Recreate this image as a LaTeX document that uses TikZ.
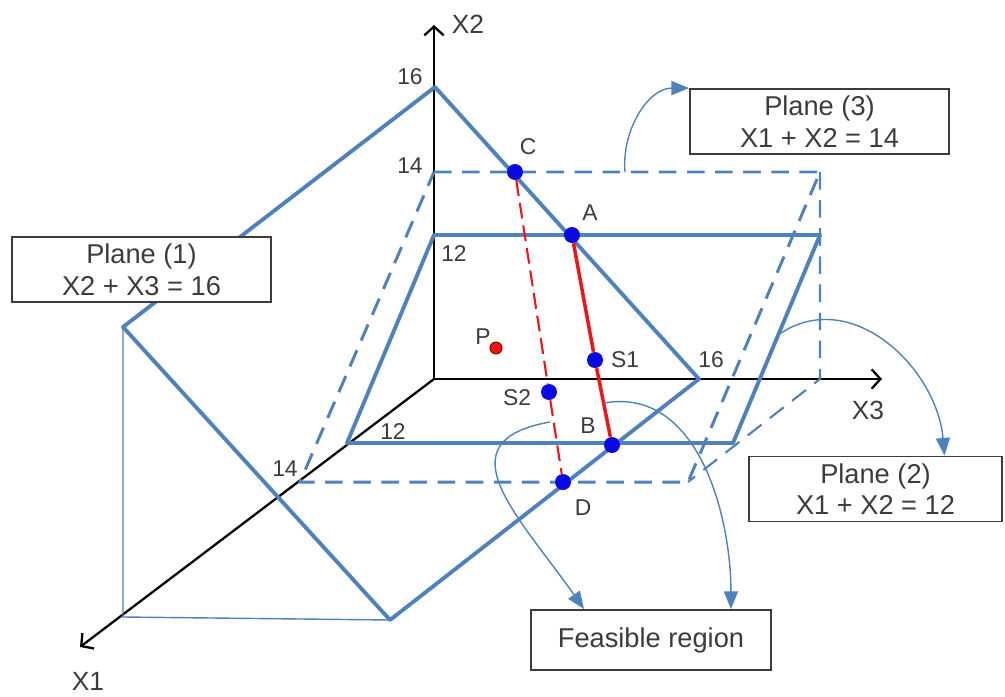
\documentclass[tikz,border=0pt]{standalone}
\usepackage{fontspec}
\setmainfont{Liberation Sans}
\usetikzlibrary{arrows.meta}
\definecolor{lpBlue}{RGB}{79,129,189}
\definecolor{lpDot}{RGB}{10,10,225}
\definecolor{lpRed}{RGB}{240,20,20}
\definecolor{lpGray}{RGB}{60,60,60}

\begin{document}
\begin{tikzpicture}[
    x=0.02cm, y=-0.02cm,
    plane/.style={draw=lpBlue, line width=2.2pt, line join=round},
    plane dashed/.style={draw=lpBlue, line width=1.7pt, dash pattern=on 10pt off 6pt},
    guide/.style={draw=lpBlue, line width=0.8pt},
    axis/.style={draw=black, line width=1.3pt, -{Straight Barb[length=5pt, width=11pt]}},
    vertex/.style={circle, fill=lpDot, inner sep=0pt, minimum size=0.32cm},
    tag/.style={text=lpGray, font=\fontsize{13}{15}\selectfont, inner sep=0pt},
    axis tag/.style={text=lpGray, font=\fontsize{15}{18}\selectfont, inner sep=0pt},
    plane box/.style={rectangle, draw=lpGray, line width=1.1pt, fill=white, text=lpGray, align=center,
      font=\fontsize{15.5}{18}\selectfont, minimum width=5.18cm, minimum height=1.3cm},
    note/.style={draw=lpBlue, line width=0.8pt, -{Triangle[length=10pt, width=8pt]}}
]
  \useasboundingbox (0,0) rectangle (1005,697);

  % axes
  \coordinate (O) at (434,379);
  \coordinate (x1end) at (80,647);
  \coordinate (x2end) at (434,25);
  \coordinate (x3end) at (882,379);
  \draw[axis] (O) -- (x1end);
  \draw[axis] (O) -- (x2end);
  \draw[axis] (O) -- (x3end);
  \node[axis tag] (x1lab) at (88,681) {X1};
  \node[axis tag] (x2lab) at (468,24) {X2};
  \node[axis tag] (x3lab) at (868,410) {X3};

  % plane (1)
  \coordinate (p1a) at (435,87);
  \coordinate (p1b) at (123,327);
  \coordinate (p1c) at (390,620);
  \coordinate (p1d) at (699,379);
  \draw[guide] (p1b) -- (123,617) -- (p1c);
  \draw[plane] (p1a) -- (p1b) -- (p1c) -- (p1d) -- cycle;

  % plane (3)
  \coordinate (p3a) at (434,172);
  \coordinate (p3b) at (820,172);
  \coordinate (p3c) at (688,482);
  \coordinate (p3d) at (300,482);
  \draw[plane dashed, line width=1.2pt] (p3b) -- (820,379) -- (p3c);
  \draw[plane dashed] (p3a) -- (p3b) -- (p3c) -- (p3d) -- cycle;

  % plane (2)
  \coordinate (p2a) at (434,235);
  \coordinate (p2b) at (820,235);
  \coordinate (p2c) at (733,443);
  \coordinate (p2d) at (347,443);
  \draw[plane] (p2a) -- (p2b) -- (p2c) -- (p2d) -- cycle;

  % ticks
  \node[tag] (t16a) at (410,77) {16};
  \node[tag] (t14a) at (410,166) {14};
  \node[tag] (t12a) at (454,254) {12};
  \node[tag] (t12b) at (393,432) {12};
  \node[tag] (t14b) at (285,469) {14};
  \node[tag] (t16b) at (711,360) {16};

  % points
  \node[vertex] (C) at (515,172) {};
  \node[vertex] (A) at (572,235) {};
  \node[vertex] (S1) at (595,360) {};
  \node[vertex] (B) at (612,445) {};
  \node[vertex] (S2) at (549,392) {};
  \node[vertex] (D) at (563,482) {};
  \node[circle, fill=lpRed, draw=red!60!black, line width=0.6pt, inner sep=0pt, minimum size=0.24cm] (P) at (496,348) {};
  \draw[lpRed, line width=2pt] (A) -- (S1) -- (B);
  \draw[lpRed, line width=1.2pt, dash pattern=on 9pt off 4pt] (C) -- (S2) -- (D);

  \node[tag] (Clab) at (528,147) {C};
  \node[tag] (Alab) at (590,213) {A};
  \node[tag] (S1lab) at (625,360) {S1};
  \node[tag] (S2lab) at (517,398) {S2};
  \node[tag] (Blab) at (588,426) {B};
  \node[tag] (Dlab) at (583,508) {D};
  \node[tag] (Plab) at (483,337) {P};

  % boxes
  \node[plane box] (plane1) at (141.5,269.5) {Plane (1)\\X2 + X3 = 16};
  \node[plane box] (plane3) at (819.5,121.5) {Plane (3)\\X1 + X2 = 14};
  \node[plane box, minimum width=5.06cm] (plane2) at (875.5,489) {Plane (2)\\X1 + X2 = 12};
  \node[plane box, minimum width=4.8cm, minimum height=1.2cm] (feas) at (651,640) {Feasible region};

  % notes
  \coordinate (p3foot) at (625,172);
  \coordinate (p2foot) at (778,335);
  \coordinate (f1) at (550,422);
  \coordinate (f2) at (604,403);
  \draw[note] (p3foot) to[out=95, in=180] (plane3.north west);
  \draw[note] (p2foot) to[out=35, in=95, looseness=1.1] ([xshift=1.38cm]plane2.north);
  \draw[note] (f1) to[out=190, in=125, looseness=1.5] ([xshift=1.08cm]feas.north west);
  \draw[note] (f2) to[out=10, in=90] ([xshift=-0.82cm]feas.north east);
\end{tikzpicture}
\end{document}
